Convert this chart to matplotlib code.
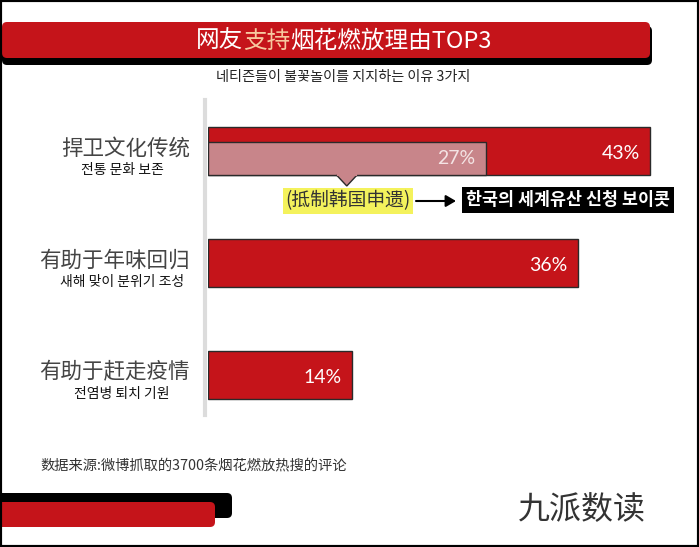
import matplotlib
matplotlib.use('Agg')
import matplotlib.pyplot as plt
import matplotlib.transforms as mtransforms
from matplotlib.patches import FancyBboxPatch, Rectangle, Polygon

plt.rcParams['font.family'] = ['Noto Sans CJK SC', 'DejaVu Sans']

title_parts = ['网友', '支持', '烟花燃放理由TOP3']
subtitle = '네티즌들이 불꽃놀이를 지지하는 이유 3가지'
categories = ['捍卫文化传统', '有助于年味回归', '有助于赶走疫情']
sub_labels = ['전통 문화 보존', '새해 맞이 분위기 조성', '전염병 퇴치 기원']
values = [43, 36, 14]
inner_value = 27
inner_label = '(抵制韩国申遗)'
inner_label_kr = '한국의 세계유산 신청 보이콧'
source = '数据来源:微博抓取的3700条烟花燃放热搜的评论'
logo = '九派数读'

W, H = 699, 547
RED = '#c5141a'
PINK = '#c8858a'
KR = ['Noto Sans CJK KR', 'DejaVu Sans']

fig = plt.figure(figsize=(W / 100, H / 100), dpi=100)
fig.patch.set_facecolor('white')

# background axes in pixel units for banners, notes and logo
bg = fig.add_axes([0, 0, 1, 1])
bg.set_xlim(0, W)
bg.set_ylim(H, 0)
bg.axis('off')


def box(x0, y0, x1, y1, color, z=1):
    bg.add_patch(FancyBboxPatch((x0, y0), x1 - x0, y1 - y0,
                                boxstyle='round,pad=0,rounding_size=5',
                                facecolor=color, edgecolor='none', zorder=z,
                                mutation_aspect=1))


# title banner
box(2, 26, 652, 65, 'black', 1)
box(2, 22, 650, 58, RED, 2)
t0 = bg.text(196, 41, title_parts[0], color='white', fontsize=17,
             fontweight='medium', va='center', ha='left', zorder=5)
t1 = bg.annotate(title_parts[1], xy=(1, 0), xycoords=t0, va='bottom',
                 ha='left', color='#f7c9a0', fontsize=17, fontweight='medium',
                 zorder=5)
t2 = bg.annotate(title_parts[2], xy=(1, 0), xycoords=t1, va='bottom',
                 ha='left', color='white', fontsize=17, fontweight='medium',
                 zorder=5)

bg.text(343, 77, subtitle, family=KR, fontsize=10.2, ha='center', va='center',
        color='#222')

# bars
scale = 10.28
ax = fig.add_axes([208 / W, 1 - 415 / H, 48 * scale / W, (415 - 100) / H])
ax.set_xlim(0, 48)
step = 112
ax.set_ylim((415 - 151) / step, (100 - 151) / step)
ypos = list(range(len(values)))
bh = 48 / step
ax.barh(ypos, values, height=bh, color=RED, edgecolor='#2a2a2a', linewidth=1.0,
        zorder=2)
off = 7.5 / step
ax.barh(ypos[0] + off, inner_value, height=33 / step, color=PINK,
        edgecolor='#2a2a2a', linewidth=1.0, zorder=3)
for y, v in zip(ypos, values):
    ax.text(v - 1.0, y + 0.02, f'{v}%', ha='right', va='center', color='white',
            fontsize=14, family='Lato', zorder=5)
ax.text(inner_value - 1.0, ypos[0] + off, f'{inner_value}%', ha='right',
        va='center', color='#f4e4e4', fontsize=14, family='Lato', zorder=5)

# callout pointer from inner bar
tip_x = inner_value / 2
bot = ypos[0] + off + 16.5 / step
ax.add_patch(Polygon([(tip_x - 1.0, bot), (tip_x, bot + 11 / step),
                      (tip_x + 1.0, bot)], closed=False, facecolor=PINK,
                     edgecolor='#2a2a2a', linewidth=1.0, clip_on=False, zorder=4))
ax.plot([tip_x - 0.9, tip_x + 0.9], [bot, bot], color=PINK, lw=1.5, zorder=4,
        clip_on=False)

ax.spines[['top', 'right', 'bottom']].set_visible(False)
ax.spines['left'].set_color('#dcdcdc')
ax.spines['left'].set_linewidth(3)
ax.spines['left'].set_position(('outward', 2))
ax.set_xticks([])
ax.set_yticks([])
ax.patch.set_alpha(0)

# category labels
tr = mtransforms.blended_transform_factory(fig.transFigure, ax.transData)
for y, c, s in zip(ypos, categories, sub_labels):
    ax.text(190 / W, y - 0.02, c, transform=tr, ha='right', va='center',
            fontsize=15.5, color='#444444', fontweight='medium')
    ax.text(122 / W, y + 0.17, s, transform=tr, ha='center', va='center',
            fontsize=10, color='#111', family=KR)

# annotation
bg.text(348, 201, inner_label, ha='center', va='center', fontsize=13.5,
        color='#333', bbox=dict(boxstyle='square,pad=0.12', facecolor='#f4f25c',
                                edgecolor='none'))
bg.text(568, 200, inner_label_kr, ha='center', va='center',
        fontsize=12.5, fontweight='bold', color='white', family=KR,
        bbox=dict(boxstyle='square,pad=0.22', facecolor='black', edgecolor='none'))
bg.annotate('', xy=(456, 201), xytext=(416, 201),
            arrowprops=dict(arrowstyle='-|>,head_length=0.6,head_width=0.35',
                            color='black', lw=1.5, shrinkA=0, shrinkB=0))

# footer
bg.text(40, 465, source, ha='left', va='center', fontsize=10.3, color='#333')
box(-10, 493, 232, 518, 'black', 1)
box(-10, 502, 215, 527, RED, 2)
bg.text(582, 510, logo, ha='center', va='center', fontsize=23,
        color='#333', fontweight='light')

fig.add_artist(Rectangle((0, 0), 1, 1, transform=fig.transFigure, fill=False,
                         edgecolor='black', linewidth=3))

fig.savefig('out.png', dpi=100)
